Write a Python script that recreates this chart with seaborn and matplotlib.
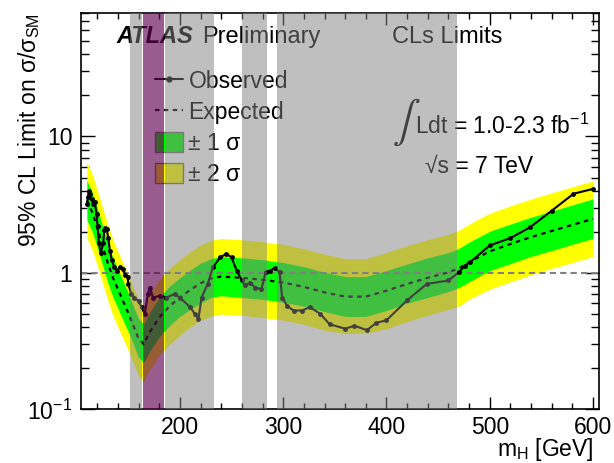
import numpy as np
import matplotlib
matplotlib.use('Agg')
import matplotlib.pyplot as plt
import matplotlib.ticker as mticker
from matplotlib.lines import Line2D
from matplotlib.patches import Patch
import seaborn as sns

# --- data ---
mass = [110, 115, 120, 125, 130, 135, 140, 145, 150, 155, 160, 165, 170, 180, 190, 200,
        210, 220, 230, 240, 250, 260, 280, 300, 320, 340, 360, 380, 400, 420, 440, 460,
        470, 480, 500, 520, 540, 560, 580, 600]
expected = [3.4, 2.8, 2.15, 1.6, 1.2, 0.93, 0.76, 0.62, 0.51, 0.41, 0.33, 0.30, 0.36, 0.47, 0.57, 0.66,
            0.75, 0.84, 0.91, 0.94, 0.93, 0.92, 0.89, 0.85, 0.79, 0.72, 0.67, 0.67, 0.74, 0.83, 0.92, 1.01,
            1.08, 1.20, 1.44, 1.63, 1.83, 2.03, 2.25, 2.49]
sig1_hi = [4.76, 3.92, 3.01, 2.24, 1.68, 1.30, 1.06, 0.87, 0.71, 0.57, 0.46, 0.42, 0.50, 0.66, 0.80, 0.92,
           1.05, 1.18, 1.27, 1.32, 1.30, 1.29, 1.25, 1.19, 1.11, 1.01, 0.94, 0.94, 1.04, 1.16, 1.29, 1.41,
           1.51, 1.68, 2.02, 2.28, 2.56, 2.84, 3.15, 3.49]
sig1_lo = [2.45, 2.02, 1.55, 1.15, 0.86, 0.67, 0.55, 0.45, 0.37, 0.30, 0.24, 0.22, 0.26, 0.34, 0.41, 0.48,
           0.54, 0.60, 0.66, 0.68, 0.67, 0.66, 0.64, 0.61, 0.57, 0.52, 0.48, 0.48, 0.53, 0.60, 0.66, 0.73,
           0.78, 0.86, 1.04, 1.17, 1.32, 1.46, 1.62, 1.79]
sig2_hi = [6.46, 5.32, 4.09, 3.04, 2.28, 1.77, 1.44, 1.18, 0.97, 0.78, 0.63, 0.57, 0.68, 0.89, 1.08, 1.25,
           1.43, 1.60, 1.73, 1.79, 1.77, 1.75, 1.69, 1.62, 1.50, 1.37, 1.27, 1.27, 1.41, 1.58, 1.75, 1.92,
           2.05, 2.28, 2.74, 3.10, 3.48, 3.86, 4.28, 4.73]
sig2_lo = [1.80, 1.48, 1.14, 0.85, 0.64, 0.49, 0.40, 0.33, 0.27, 0.22, 0.175, 0.16, 0.19, 0.25, 0.30, 0.35,
           0.40, 0.45, 0.48, 0.50, 0.49, 0.49, 0.47, 0.45, 0.42, 0.38, 0.36, 0.36, 0.39, 0.44, 0.49, 0.54,
           0.57, 0.64, 0.76, 0.86, 0.97, 1.08, 1.19, 1.32]

obs_mass = [110, 111, 112, 113, 114.5, 116, 117.7, 119.3, 120.3, 121.6, 123.5, 125.8, 126.8, 128,
            129.1, 130.7, 132.3, 134, 136.5, 138.8, 142, 145.3, 147, 149.5, 150, 153, 156, 160, 163,
            166, 169, 171, 174, 181, 187, 195, 200, 210, 214.5, 218, 221, 227, 232, 239, 245, 250,
            255, 260, 263, 268, 273, 279, 283, 287.5, 292, 296.5, 299, 304, 310, 318, 326, 336, 345,
            360, 369, 381, 390, 400, 420, 439, 460, 470, 476, 481, 500, 520, 539, 560, 581, 600]
obs_limit = [3.2, 3.6, 4.0, 3.8, 3.5, 3.2, 3.3, 2.7, 2.2, 1.65, 1.4, 1.65, 2.05, 2.15,
             2.1, 1.8, 1.45, 1.25, 1.1, 1.04, 1.1, 1.07, 0.96, 0.93, 0.83, 0.70, 0.66, 0.62, 0.56,
             0.50, 0.70, 0.78, 0.66, 0.68, 0.66, 0.70, 0.66, 0.56, 0.50, 0.46, 0.66, 0.83, 1.10, 1.30, 1.38, 1.30,
             1.04, 0.88, 0.81, 0.85, 0.78, 0.76, 1.01, 1.04, 1.09, 1.01, 0.66, 0.57, 0.53, 0.53, 0.56, 0.50, 0.42,
             0.39, 0.41, 0.38, 0.43, 0.45, 0.63, 0.83, 0.88, 1.01, 1.13, 1.20, 1.59, 1.80, 2.16, 2.86, 3.80, 4.13]

excluded = [(151.5, 163.6), (185.6, 233.5), (260.4, 284.6), (294.3, 468.5)]
tevatron = (164.3, 184.9)

x_ticks = [200, 300, 400, 500, 600]
y_ticks = [0.1, 1, 10]
y_tick_labels = ['$10^{-1}$', '1', '10']

# --- style ---
sns.set_style('ticks', {'axes.edgecolor': 'black', 'text.color': 'black', 'axes.labelcolor': 'black',
                        'xtick.color': 'black', 'ytick.color': 'black'})
plt.rcParams['font.family'] = ['Liberation Sans', 'DejaVu Sans']
plt.rcParams.update({'font.size': 16.5, 'mathtext.fontset': 'custom', 'mathtext.rm': 'Liberation Sans',
                     'mathtext.it': 'Liberation Sans:italic', 'mathtext.bf': 'Liberation Sans:bold'})

W, H = 614, 463
fig = plt.figure(figsize=(W / 100, H / 100), dpi=100)
ax = fig.add_axes([80.7 / W, 1 - 409.3 / H, (599.3 - 80.7) / W, (409.3 - 13.3) / H])

ax.fill_between(mass, sig2_lo, sig2_hi, color=(1, 1, 0), lw=0, zorder=1)
ax.fill_between(mass, sig1_lo, sig1_hi, color=(0, 1, 0), lw=0, zorder=1.1)
ax.axhline(1, color='0.5', ls=(0, (3, 2)), lw=1.5, zorder=1.5)
sns.lineplot(x=mass, y=expected, ax=ax, color='black', lw=1.6, linestyle=(0, (2, 2)), zorder=2)
sns.lineplot(x=obs_mass, y=obs_limit, ax=ax, color='black', lw=1.5, marker='o', markersize=3.5,
             markeredgecolor='black', markeredgewidth=0, zorder=2.2)

ax.set_yscale('log')
ax.set_xlim(104, 606)
ax.set_ylim(0.1, 80)
ax.set_xticks(x_ticks)
ax.set_xticklabels([str(t) for t in x_ticks])
ax.xaxis.set_minor_locator(mticker.MultipleLocator(20))
ax.set_yticks(y_ticks)
ax.set_yticklabels(y_tick_labels)
ax.yaxis.set_minor_locator(mticker.LogLocator(base=10, subs=np.arange(2, 10)))
ax.yaxis.set_minor_formatter(mticker.NullFormatter())
ax.tick_params(which='both', direction='in', top=True, right=True, width=1, labelsize=16.5)
ax.tick_params(axis='x', which='major', length=8.6, pad=5)
ax.tick_params(axis='x', which='minor', length=4.3)
ax.tick_params(axis='y', which='major', length=10, pad=6)
ax.tick_params(axis='y', which='minor', length=5.5)
for s in ax.spines.values():
    s.set_linewidth(1.2)

ax.set_ylabel('95% CL Limit on σ/σ$_{\\mathrm{SM}}$', loc='top', fontsize=16.5)
ax.yaxis.set_label_coords(-0.074, 1.0)
ax.set_xlabel('m$_{\\mathrm{H}}$ [GeV]', loc='right', fontsize=16.5)
ax.xaxis.label.set_ha('right')
ax.xaxis.set_label_coords(0.99, -0.067)

# --- annotations (figure pixel positions) ---
def fx(px):
    return px / W

def fy(py):
    return 1 - py / H

tkw = dict(transform=fig.transFigure, va='baseline', zorder=3)
ax.text(fx(116.7), fy(43.3), 'ATLAS', fontsize=17, fontweight='bold', style='italic', **tkw)
ax.text(fx(201.7), fy(43.3), 'Preliminary', fontsize=17, **tkw)
ax.text(fx(391.7), fy(43.3), 'CLs Limits', fontsize=17, **tkw)
ax.text(fx(392), fy(122.5), r'$\int$', fontsize=30, math_fontfamily='stixsans',
        transform=fig.transFigure, va='center', zorder=3)
ax.text(fx(415), fy(134), 'Ldt = 1.0-2.3 fb$^{-1}$', fontsize=16.5, **tkw)
ax.text(fx(425), fy(173.3), '√s = 7 TeV', fontsize=16.5, **tkw)

handles = [
    Line2D([0], [0], color='black', lw=1.5, marker='o', markersize=3.5, label='Observed'),
    Line2D([0], [0], color='black', lw=1.6, ls=(0, (2, 2)), label='Expected'),
    Patch(facecolor=(0, 1, 0), edgecolor='0.45', lw=1, label='± 1 σ'),
    Patch(facecolor=(1, 1, 0), edgecolor='0.45', lw=1, label='± 2 σ'),
]
leg = ax.legend(handles=handles, loc='upper left', bbox_to_anchor=(fx(155), fy(70)),
                bbox_transform=fig.transFigure, frameon=False, fontsize=16.5, borderpad=0,
                borderaxespad=0, handlelength=1.2, handleheight=1.0, handletextpad=0.26,
                labelspacing=0.34)
leg.set_zorder(4)

# --- excluded regions drawn over everything ---
for lo, hi in excluded:
    ax.axvspan(lo, hi, color=(0.5, 0.5, 0.5), alpha=0.5, lw=0, zorder=10)
ax.axvspan(*tevatron, color=(0.385, 0.015, 0.32), alpha=0.65, lw=0, zorder=10)

fig.savefig('out.png', dpi=100)
